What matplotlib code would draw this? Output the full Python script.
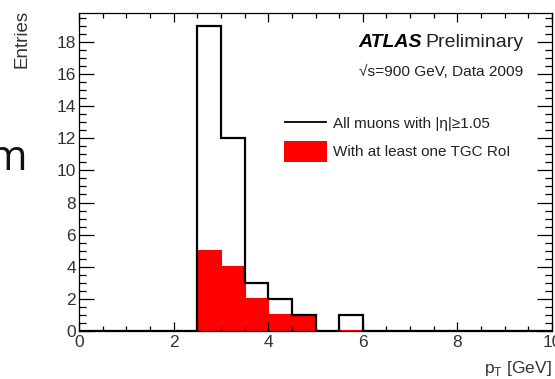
import numpy as np
import matplotlib
matplotlib.use("Agg")
import matplotlib.pyplot as plt
from matplotlib.ticker import MultipleLocator
from matplotlib.lines import Line2D
from matplotlib.patches import Rectangle

plt.rcParams['font.family'] = ['Liberation Sans', 'DejaVu Sans']

# Binning of pT [GeV]
bin_edges = [0.0, 0.5, 1.0, 1.5, 2.0, 2.5, 3.0, 3.5, 4.0, 4.5, 5.0,
             5.5, 6.0, 6.5, 7.0, 7.5, 8.0, 8.5, 9.0, 9.5, 10.0]
# All muons with |eta| >= 1.05
all_muons = [0, 0, 0, 0, 0, 19, 12, 3, 2, 1, 0, 1, 0, 0, 0, 0, 0, 0, 0, 0]
# With at least one TGC RoI
tgc_roi = [0, 0, 0, 0, 0, 5, 4, 2, 1, 1, 0, 0, 0, 0, 0, 0, 0, 0, 0, 0]

x_ticks = [0, 2, 4, 6, 8, 10]
y_ticks = [0, 2, 4, 6, 8, 10, 12, 14, 16, 18]

W, H = 555, 379
fig = plt.figure(figsize=(W / 100, H / 100), dpi=100)
ax = fig.add_axes([79 / W, 1 - 331 / H, (552 - 79) / W, (331 - 13) / H])

ax.stairs(tgc_roi, bin_edges, fill=True, color='#ff0000', lw=0)
ax.stairs(tgc_roi, bin_edges, color='#ff0000', lw=1.5)
ax.stairs(all_muons, bin_edges, color='black', lw=1.6)

ax.set_xlim(0, 10)
ax.set_ylim(0, 19.8)
ax.set_xticks(x_ticks)
ax.set_yticks(y_ticks)
ax.xaxis.set_minor_locator(MultipleLocator(0.5))
ax.yaxis.set_minor_locator(MultipleLocator(0.5))
ax.tick_params(axis='both', which='both', direction='in', top=True, right=True,
               width=0.9, colors='black', labelcolor='#333333', labelsize=12.5)
ax.tick_params(axis='y', which='major', length=10.5, pad=2)
ax.tick_params(axis='y', which='minor', length=5)
ax.tick_params(axis='x', which='major', length=6.5, pad=3)
ax.tick_params(axis='x', which='minor', length=3.6)
for s in ax.spines.values():
    s.set_linewidth(0.9)

fig.text(552 / W, 1 - 373 / H, r'p$_{\mathregular{T}}$ [GeV]', ha='right', va='baseline',
         fontsize=12.5, color='#333333')
fig.text(22 / W, 1 - 10 / H, 'Entries', rotation=90, ha='center', va='top',
         fontsize=13.5, color='#333333')

# ATLAS label
fig.text(422 / W, 1 - 47 / H, 'ATLAS', ha='right', va='baseline', fontsize=14,
         fontweight='bold', fontstyle='italic', color='black')
fig.text(425 / W, 1 - 47 / H, 'Preliminary', ha='left', va='baseline', fontsize=14,
         color='#222222')
fig.text(523 / W, 1 - 76 / H, '√s=900 GeV, Data 2009', ha='right',
         va='baseline', fontsize=11.1, color='#222222')

# Legend
fig.add_artist(Line2D([285 / W, 326 / W], [1 - 122 / H, 1 - 122 / H], color='black',
                      lw=1.3, transform=fig.transFigure))
fig.add_artist(Rectangle((284 / W, 1 - 162 / H), 43 / W, 21 / H, facecolor='#ff0000',
                         edgecolor='none', transform=fig.transFigure))
fig.text(333 / W, 1 - 128 / H, 'All muons with |η|≥1.05', ha='left', va='baseline',
         fontsize=11, color='#222222')
fig.text(333 / W, 1 - 156 / H, 'With at least one TGC RoI', ha='left', va='baseline',
         fontsize=11, color='#222222')

# fragment of neighbouring slide text
fig.text(-12 / W, 1 - 170 / H, 'm', ha='left', va='baseline', fontsize=30,
         color='#111111', family='Open Sans')

fig.savefig('out.png', dpi=100)
